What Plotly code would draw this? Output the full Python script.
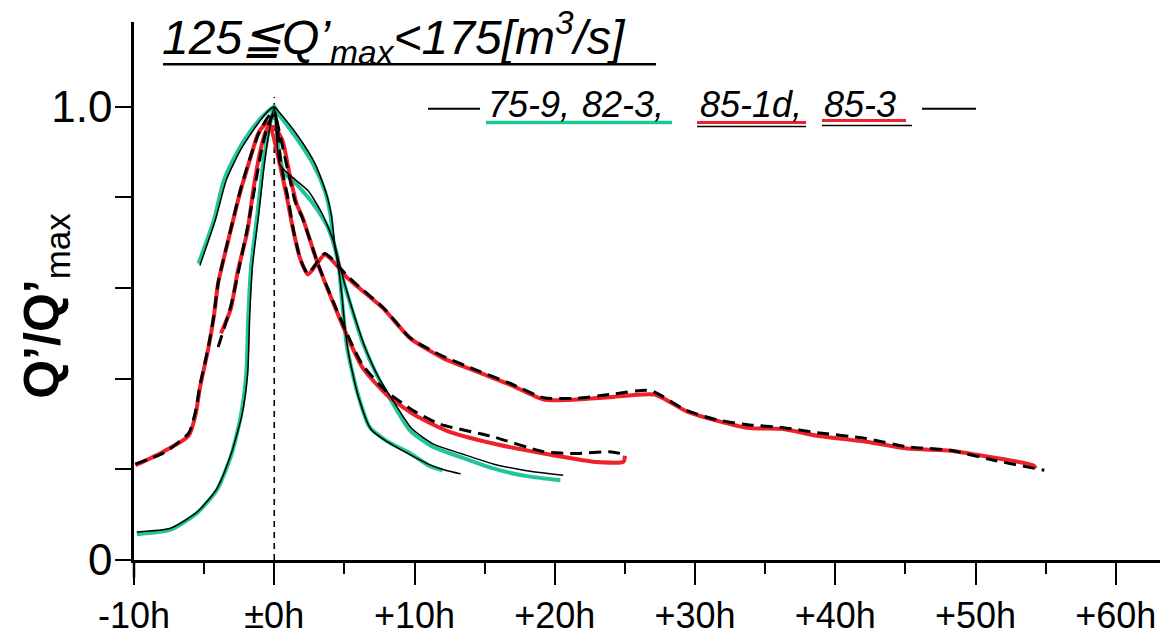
import plotly.graph_objects as go

# ---------------- data ----------------
x_tick_vals = [-10, 0, 10, 20, 30, 40, 50, 60]
x_tick_text = ["-10h", "±0h", "+10h", "+20h", "+30h", "+40h", "+50h", "+60h"]
y_tick_vals = [0, 0.2, 0.4, 0.6, 0.8, 1.0]
y_tick_text = ["0", "", "", "", "", "1.0"]

# event 75-9 (green, thin black overlay)
e759_x = [-5.4, -4.3, -3.6, -2.6, -1.7, -0.8, 0.0, 0.2, 1.6, 2.8, 3.6, 4.0, 4.2, 4.7, 5.4, 6.3, 7.3, 8.5, 9.7, 11.3, 13.2, 15.6, 18.0, 20.4]
e759_y = [0.654, 0.75, 0.837, 0.902, 0.946, 0.98, 1.0, 0.989, 0.93, 0.872, 0.815, 0.763, 0.707, 0.641, 0.567, 0.48, 0.409, 0.343, 0.285, 0.25, 0.228, 0.202, 0.185, 0.176]
e759_bx = [-5.3, -4.2, -3.4, -2.4, -1.5, -0.7, 0.0, 0.3, 1.7, 2.9, 3.7, 4.1, 4.3, 4.8, 5.5, 6.4, 7.4, 8.6, 9.8, 11.4, 13.3, 15.6, 18.0, 20.6]
e759_by = [0.65, 0.75, 0.84, 0.905, 0.948, 0.982, 1.0, 0.99, 0.935, 0.875, 0.81, 0.755, 0.70, 0.635, 0.56, 0.475, 0.405, 0.345, 0.29, 0.255, 0.235, 0.212, 0.197, 0.187]

# event 82-3 (green, thin black overlay)
e823_x = [-9.8, -7.4, -5.5, -4.1, -3.1, -2.4, -2.0, -1.85, -1.65, -1.2, -0.8, -0.4, 0.0, 0.3, 0.7, 1.35, 2.8, 3.8, 4.5, 4.8, 5.0, 5.2, 5.9, 6.8, 8.0, 9.7, 11.1, 12.0]
e823_y = [0.057, 0.067, 0.104, 0.154, 0.228, 0.315, 0.409, 0.539, 0.648, 0.763, 0.872, 0.946, 1.0, 0.909, 0.854, 0.837, 0.785, 0.735, 0.67, 0.583, 0.517, 0.467, 0.372, 0.293, 0.263, 0.235, 0.207, 0.198]
e823_bx = [-9.8, -7.4, -5.5, -4.1, -3.1, -2.3, -1.9, -1.75, -1.55, -1.1, -0.7, -0.35, 0.0, 0.4, 1.35, 2.4, 3.4, 4.2, 4.6, 4.85, 5.05, 5.3, 6.0, 6.9, 8.1, 9.7, 11.1, 12.2, 13.3]
e823_by = [0.062, 0.07, 0.106, 0.157, 0.232, 0.32, 0.41, 0.54, 0.65, 0.765, 0.875, 0.948, 1.0, 0.872, 0.843, 0.815, 0.765, 0.705, 0.64, 0.575, 0.51, 0.455, 0.36, 0.288, 0.26, 0.232, 0.21, 0.198, 0.19]

# event 85-1d (red, black dashed overlay)
e851_x = [-9.9, -7.9, -6.1, -5.6, -5.3, -4.7, -4.3, -4.0, -3.1, -2.4, -1.7, -1.2, -0.8, -0.4, 0.4, 0.9, 1.35, 1.85, 2.4, 3.0, 3.6, 4.2, 5.1, 5.9, 7.8, 9.7, 12.0, 14.5, 16.8, 19.2, 21.6, 23.9, 27.1, 29.4, 31.6, 33.9, 36.3, 38.7, 42.2, 45.1, 48.2, 50.5, 54.1, 54.3]
e851_y = [0.209, 0.239, 0.274, 0.322, 0.38, 0.467, 0.539, 0.611, 0.728, 0.815, 0.887, 0.937, 0.957, 0.965, 0.872, 0.8, 0.728, 0.665, 0.63, 0.652, 0.674, 0.659, 0.626, 0.604, 0.554, 0.489, 0.446, 0.415, 0.387, 0.354, 0.354, 0.359, 0.365, 0.328, 0.307, 0.291, 0.289, 0.274, 0.261, 0.246, 0.241, 0.23, 0.209, 0.202]
e851_bx = [-9.9, -7.9, -6.1, -5.6, -5.3, -4.7, -4.3, -4.0, -3.1, -2.4, -1.7, -1.1, -0.5, 0.0, 0.5, 1.0, 1.4, 1.9, 2.4, 3.0, 3.6, 4.2, 5.1, 5.9, 7.8, 9.7, 12.0, 14.5, 16.8, 19.2, 21.6, 23.9, 26.8, 29.4, 31.6, 33.9, 36.3, 38.7, 42.2, 45.1, 48.2, 51.3, 54.9]
e851_by = [0.212, 0.236, 0.28, 0.33, 0.385, 0.47, 0.54, 0.612, 0.73, 0.818, 0.89, 0.942, 0.975, 0.99, 0.87, 0.795, 0.722, 0.66, 0.632, 0.655, 0.676, 0.662, 0.63, 0.607, 0.556, 0.49, 0.45, 0.418, 0.39, 0.358, 0.357, 0.365, 0.374, 0.33, 0.309, 0.298, 0.292, 0.281, 0.268, 0.25, 0.242, 0.22, 0.198]

# event 85-3 (red, black dashed overlay)
e853_x = [-3.8, -3.1, -2.6, -1.9, -1.5, -1.0, -0.6, -0.4, 0.1, 0.6, 1.1, 1.6, 2.0, 3.1, 4.0, 5.4, 6.3, 8.0, 9.9, 12.3, 15.6, 19.2, 22.7, 24.9, 25.0]
e853_y = [0.50, 0.554, 0.637, 0.728, 0.815, 0.902, 0.946, 0.957, 0.952, 0.924, 0.85, 0.785, 0.757, 0.654, 0.583, 0.48, 0.424, 0.365, 0.322, 0.285, 0.257, 0.235, 0.217, 0.217, 0.23]
e853_bx = [-4.0, -3.1, -2.5, -1.9, -1.4, -0.9, -0.5, 0.0, 0.5, 1.0, 1.5, 2.0, 3.1, 4.0, 5.4, 6.3, 8.0, 9.9, 11.8, 15.6, 19.2, 21.6, 23.9, 25.0]
e853_by = [0.47, 0.56, 0.645, 0.735, 0.82, 0.905, 0.955, 0.985, 0.925, 0.855, 0.79, 0.755, 0.655, 0.585, 0.485, 0.43, 0.372, 0.33, 0.30, 0.272, 0.239, 0.235, 0.239, 0.233]

# ---------------- styling ----------------
GREEN = "#1fc69a"
RED = "#f0202a"
FONT = "Liberation Sans"

W, H = 1168, 644
L, R, T, B = 134, 1160, 22, 568


def px(x):
    return (x - L) / (R - L)


def py(y):
    return (B - y) / (B - T)


fig = go.Figure()

# coloured lines first
for xs, ys, col in [(e759_x, e759_y, GREEN), (e823_x, e823_y, GREEN),
                    (e851_x, e851_y, RED), (e853_x, e853_y, RED)]:
    fig.add_trace(go.Scatter(x=xs, y=ys, mode="lines",
                             line=dict(color=col, width=4, shape="spline", smoothing=0.6),
                             hoverinfo="skip"))
# black overlays
for xs, ys in [(e759_bx, e759_by), (e823_bx, e823_by)]:
    fig.add_trace(go.Scatter(x=xs, y=ys, mode="lines",
                             line=dict(color="black", width=1.5, shape="spline", smoothing=0.6),
                             hoverinfo="skip"))
for xs, ys in [(e851_bx, e851_by), (e853_bx, e853_by)]:
    fig.add_trace(go.Scatter(x=xs, y=ys, mode="lines",
                             line=dict(color="black", width=3, dash="12px,7px", shape="spline", smoothing=0.6),
                             hoverinfo="skip"))

shapes = []
# vertical dashed reference at 0h
shapes.append(dict(type="line", xref="x", yref="paper", x0=0, x1=0, y0=0, y1=py(98),
                   line=dict(color="black", width=1.6, dash="6px,5px"), layer="below"))
# y-axis stub below the x axis
shapes.append(dict(type="line", xref="paper", yref="paper", x0=0, x1=0, y0=py(568), y1=py(586),
                   line=dict(color="black", width=2.5)))
# title underline
shapes.append(dict(type="line", xref="paper", yref="paper", x0=px(163), x1=px(656), y0=py(65), y1=py(65),
                   line=dict(color="black", width=2.5)))
# legend dashes
shapes.append(dict(type="line", xref="paper", yref="paper", x0=px(428), x1=px(480), y0=py(110), y1=py(110),
                   line=dict(color="black", width=2)))
shapes.append(dict(type="line", xref="paper", yref="paper", x0=px(922), x1=px(976), y0=py(110), y1=py(110),
                   line=dict(color="black", width=2)))
# legend underlines
shapes.append(dict(type="line", xref="paper", yref="paper", x0=px(486), x1=px(672), y0=py(124), y1=py(124),
                   line=dict(color=GREEN, width=3.5)))
shapes.append(dict(type="line", xref="paper", yref="paper", x0=px(697), x1=px(806), y0=py(124), y1=py(124),
                   line=dict(color=RED, width=3)))
shapes.append(dict(type="line", xref="paper", yref="paper", x0=px(697), x1=px(806), y0=py(128), y1=py(128),
                   line=dict(color="black", width=1.5)))
shapes.append(dict(type="line", xref="paper", yref="paper", x0=px(822), x1=px(906), y0=py(122), y1=py(122),
                   line=dict(color=RED, width=3)))
shapes.append(dict(type="line", xref="paper", yref="paper", x0=px(822), x1=px(912), y0=py(127), y1=py(127),
                   line=dict(color="black", width=1.5)))

annotations = []
annotations.append(dict(xref="paper", yref="paper", x=px(160), y=py(38), xanchor="left", yanchor="middle",
                        showarrow=False,
                        text="<i>125≦Q’<sub>max</sub>&lt;175[m<sup>3</sup>/s]</i>",
                        font=dict(family=FONT, size=48, color="black")))
for txt, xpos in [("75-9,", 486), ("82-3,", 580), ("85-1d,", 698), ("85-3", 822)]:
    annotations.append(dict(xref="paper", yref="paper", x=px(xpos), y=py(106), xanchor="left", yanchor="middle",
                            showarrow=False, text="<i>" + txt + "</i>",
                            font=dict(family=FONT, size=36, color="black")))
annotations.append(dict(xref="paper", yref="paper", x=px(46), y=py(310), xanchor="center", yanchor="middle",
                        showarrow=False, textangle=-90,
                        text="<b>Q’/Q’</b><sub>max</sub>",
                        font=dict(family=FONT, size=50, color="black")))

fig.update_layout(
    width=W, height=H,
    margin=dict(l=L, r=W - R, t=T, b=H - B, pad=0),
    paper_bgcolor="white", plot_bgcolor="white",
    showlegend=False,
    shapes=shapes, annotations=annotations,
)
fig.update_xaxes(
    range=[-10, 63.15], tickvals=x_tick_vals, ticktext=x_tick_text,
    ticks="outside", ticklen=22, tickwidth=1.5, tickcolor="black",
    showline=True, linecolor="black", linewidth=3, showgrid=False, zeroline=False,
    tickfont=dict(family=FONT, size=36, color="black"),
    minor=dict(tick0=-10, dtick=5, ticks="outside", ticklen=11, tickwidth=1.5, tickcolor="black", showgrid=False),
)
fig.update_yaxes(
    range=[0, 1.187], tickvals=y_tick_vals, ticktext=y_tick_text,
    ticks="outside", ticklen=16, tickwidth=1.5, tickcolor="black",
    showline=True, linecolor="black", linewidth=2.5, showgrid=False, zeroline=False,
    ticklabelstandoff=-6,
    tickfont=dict(family=FONT, size=44, color="black"),
)

fig.write_html("out.html")
